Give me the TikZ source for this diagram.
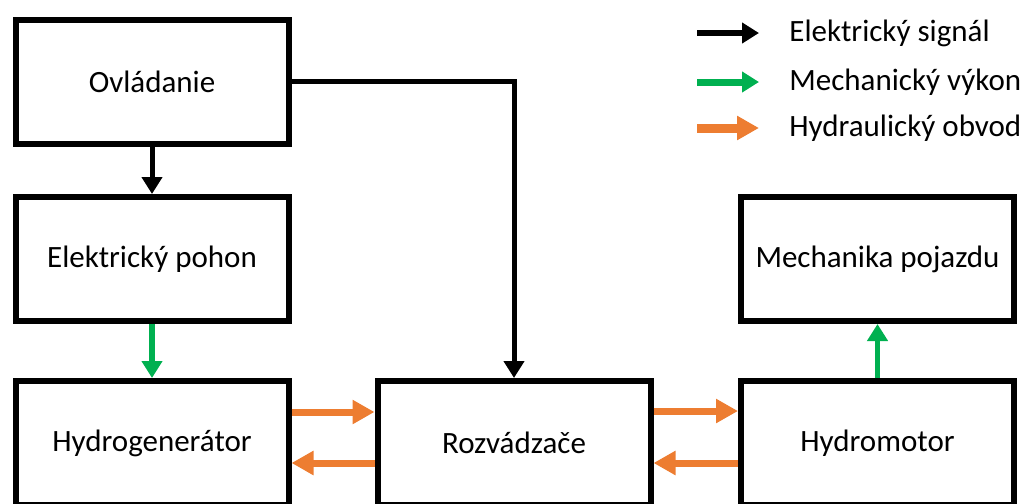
\documentclass[tikz,border=0pt]{standalone}
\usepackage{fontspec}
\setmainfont{Carlito}
\usetikzlibrary{arrows.meta, positioning, calc}
\definecolor{mechgreen}{HTML}{00B050}
\definecolor{hydorange}{HTML}{ED7D31}
\newcommand{\blockbox}[4]{%
  \node[draw=black, line width=3pt, fill=white,
        minimum width=136.5pt, minimum height=62pt, align=center,
        inner sep=0pt] (#1) at (#2,#3) {#4};}

\begin{document}
\begin{tikzpicture}[x=0.5pt, y=-0.5pt, font=\fontsize{15.5}{18}\selectfont,
    sigline/.style={-{Triangle[length=8.5pt, width=10pt]}, black, line width=2.5pt},
    mechline/.style={-{Triangle[length=8.5pt, width=10pt]}, mechgreen, line width=2.75pt},
    hydline/.style={-{Triangle[length=11pt, width=11.5pt]}, hydorange, line width=3.5pt}]
      \useasboundingbox (0,0) rectangle (1027,503);
      \blockbox{ovl}{152}{81.5}{Ovládanie}
      \blockbox{pohon}{152}{259}{Elektrický pohon}
      \blockbox{hgen}{152}{443}{Hydrogenerátor}
      \blockbox{rozv}{514}{443}{Rozvádzače}
      \blockbox{hmot}{877.5}{443}{Hydromotor}
      \blockbox{mech}{877.5}{259}{Mechanika pojazdu}
      \draw[sigline] (ovl) -- (pohon);
      \draw[sigline] (ovl.east) -| (rozv.north);
      \draw[mechline] (pohon) -- (hgen);
      \draw[mechline] (hmot) -- (mech);
      \draw[hydline] ([yshift=15.5pt]hgen.east) -- ([yshift=15.5pt]rozv.west);
      \draw[hydline] ([yshift=-10pt]rozv.west) -- ([yshift=-10pt]hgen.east);
      \draw[hydline] ([yshift=16pt]rozv.east) -- ([yshift=16pt]hmot.west);
      \draw[hydline] ([yshift=-10pt]hmot.west) -- ([yshift=-10pt]rozv.east);
      % legend
      \coordinate (sigA) at (697,33);  \coordinate (sigB) at (759,33);
      \coordinate (mechA) at (697,82); \coordinate (mechB) at (759,82);
      \coordinate (hydA) at (697,128); \coordinate (hydB) at (759,128);
      \node[anchor=west, inner sep=0pt] (sigtxt) at (789,33) {Elektrický signál};
      \node[anchor=west, inner sep=0pt] (mechtxt) at (789,82) {Mechanický výkon};
      \node[anchor=west, inner sep=0pt] (hydtxt) at (789,128) {Hydraulický obvod};
      \draw[sigline, line width=3pt] (sigA) -- (sigB);
      \draw[mechline, line width=3.5pt] (mechA) -- (mechB);
      \draw[hydline, line width=4.5pt] (hydA) -- (hydB);
    \end{tikzpicture}
\end{document}
